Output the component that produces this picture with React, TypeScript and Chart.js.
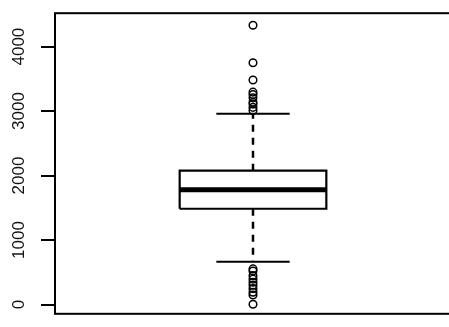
import React, { useEffect, useRef } from "react";
import { Chart, registerables } from "chart.js";

Chart.register(...registerables);

// Box statistics
const groupPosition = 1;
const boxQ1 = 1485;
const boxMedian = 1780;
const boxQ3 = 2075;
const whiskerLow = 662;
const whiskerHigh = 2958;
const upperOutliers = [4330, 3749, 3482, 3294, 3256, 3205, 3136, 3108, 3057, 3009];
const lowerOutliers = [552, 520, 448, 394, 345, 300, 246, 190, 148, 5];
const yTicks = [0, 1000, 2000, 3000, 4000];
const yMin = -144;
const yMax = 4518;
const xMin = 0.46;
const xMax = 1.54;
const boxHalfWidth = 0.2;
const capHalfWidth = 0.1;

const framePlugin = {
  id: "frame",
  afterDatasetsDraw(chart: any) {
    const { ctx, chartArea } = chart;
    ctx.save();
    ctx.strokeStyle = "#000";
    ctx.lineWidth = 2;
    ctx.strokeRect(chartArea.left, chartArea.top, chartArea.right - chartArea.left, chartArea.bottom - chartArea.top);
    ctx.restore();
  },
};

export default function App() {
  const ref = useRef<HTMLCanvasElement | null>(null);

  useEffect(() => {
    if (!ref.current) return;
    const x0 = groupPosition - boxHalfWidth;
    const x1 = groupPosition + boxHalfWidth;
    const c0 = groupPosition - capHalfWidth;
    const c1 = groupPosition + capHalfWidth;
    const lineBase = {
      type: "line" as const,
      borderColor: "#000",
      pointRadius: 0,
      fill: false,
      tension: 0,
      borderJoinStyle: "miter" as const,
    };
    const outliers = [...upperOutliers, ...lowerOutliers].map((v) => ({ x: groupPosition, y: v }));
    const chart = new Chart(ref.current, {
      type: "line",
      data: {
        datasets: [
          { ...lineBase, data: [{ x: groupPosition, y: boxQ3 }, { x: groupPosition, y: whiskerHigh }], borderWidth: 2.5, borderDash: [7, 6] },
          { ...lineBase, data: [{ x: groupPosition, y: boxQ1 }, { x: groupPosition, y: whiskerLow }], borderWidth: 2.5, borderDash: [7, 6] },
          { ...lineBase, data: [{ x: c0, y: whiskerHigh }, { x: c1, y: whiskerHigh }], borderWidth: 2 },
          { ...lineBase, data: [{ x: c0, y: whiskerLow }, { x: c1, y: whiskerLow }], borderWidth: 2 },
          {
            ...lineBase,
            data: [
              { x: x0, y: boxQ1 },
              { x: x1, y: boxQ1 },
              { x: x1, y: boxQ3 },
              { x: x0, y: boxQ3 },
              { x: x0, y: boxQ1 },
            ],
            borderWidth: 2.2,
          },
          { ...lineBase, data: [{ x: x0, y: boxMedian }, { x: x1, y: boxMedian }], borderWidth: 5 },
          {
            type: "scatter" as const,
            data: outliers,
            showLine: false,
            pointStyle: "circle",
            pointRadius: 3.8,
            pointBorderWidth: 1.5,
            pointBorderColor: "#000",
            pointBackgroundColor: "rgba(0,0,0,0)",
            borderColor: "#000",
            backgroundColor: "rgba(0,0,0,0)",
          },
        ] as any,
      },
      options: {
        animation: false,
        responsive: false,
        devicePixelRatio: 1,
        layout: { padding: { top: 8, bottom: 4, right: 9, left: 0 } },
        plugins: { legend: { display: false }, tooltip: { enabled: false } },
        scales: {
          x: { type: "linear", min: xMin, max: xMax, display: false },
          y: {
            type: "linear",
            min: yMin,
            max: yMax,
            border: { display: false },
            grid: { drawOnChartArea: false, drawTicks: true, tickLength: 14, lineWidth: 2, color: "#000", tickColor: "#000" },
            ticks: {
              autoSkip: false,
              minRotation: 90,
              maxRotation: 90,
              crossAlign: "center",
              padding: 3,
              color: "#111",
              font: { family: "'Liberation Sans', Arial, sans-serif", size: 17 },
              callback: (v: any) => String(v),
            },
            afterBuildTicks: (scale: any) => {
              scale.ticks = yTicks.map((v) => ({ value: v }));
            },
            afterFit: (scale: any) => {
              scale.width = 55;
            },
          },
        },
      },
      plugins: [framePlugin],
    } as any);
    return () => chart.destroy();
  }, []);

  return (
    <div style={{ position: "absolute", left: 0, top: 0, width: 449, height: 327, overflow: "hidden", background: "#fff" }}>
      <canvas ref={ref} width={460} height={327} style={{ display: "block" }} />
    </div>
  );
}
